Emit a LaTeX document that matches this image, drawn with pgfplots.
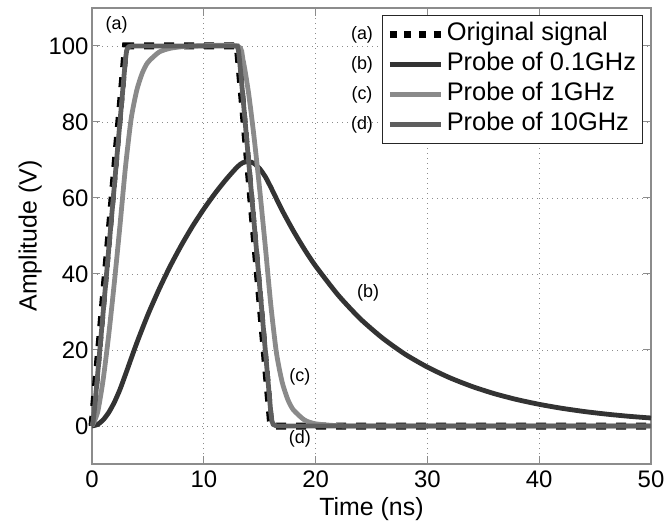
\documentclass[border=0pt]{standalone}
\usepackage{fontspec}
\setmainfont{Liberation Sans}
\usepackage{pgfplots}
\pgfplotsset{compat=1.18}
\definecolor{cb}{HTML}{333333}
\definecolor{cc}{HTML}{8A8A8A}
\definecolor{cd}{HTML}{5E5E5E}
\definecolor{frm}{HTML}{8C8C8C}
\begin{document}
\begin{tikzpicture}
\begin{axis}[
 scale only axis, width=559bp, height=456bp,
 xmin=0, xmax=50, ymin=-10, ymax=110,
 xtick={0,10,...,50}, ytick={0,20,...,100},
 grid=major,
 grid style={dash pattern=on 1bp off 4bp, black!45, line width=0.8bp},
 axis line style={frm, line width=1.2bp},
 tick style={frm, line width=1bp}, tick align=inside, major tick length=8bp,
 tick label style={font=\fontsize{24}{28}\selectfont},
 xticklabel style={yshift=-3bp},
 label style={font=\fontsize{25}{30}\selectfont},
 xlabel style={yshift=-3bp},
 xlabel={Time (ns)}, ylabel={Amplitude (V)},
 /pgf/number format/assume math mode=true,
 clip=false,
 legend style={at={(1,1)}, xshift=-8bp, yshift=-7bp, anchor=north east,
   draw=black!85, line width=1bp, fill=white,
   font=\fontsize{25.5}{30}\selectfont, cells={anchor=west},
   inner xsep=4bp, inner ysep=4bp, row sep=0bp,
   nodes={inner sep=2.5bp, text height=19bp, text depth=6bp}},
 legend image code/.code={\draw[#1] (0bp,0bp) -- (51bp,0bp);},
]
\addplot[black, line width=7bp, dash pattern=on 10bp off 10bp,
  legend image post style={dash pattern=on 7bp off 7.7bp}]
  coordinates {(0,0) (3,100) (13,100) (16,0) (50,0)};
\addlegendentry{Original signal}
\addplot[cb, line width=4.8bp, smooth, tension=0.4] coordinates {
 (0,0) (0.5,0.41) (1,1.61) (1.5,3.57) (2,6.24) (2.5,9.60) (3,13.6)
 (4,21.8) (5,29.3) (6,36.0) (7,42.1) (8,47.6) (9,52.6) (10,57.1)
 (11,61.2) (12,64.9) (13,68.2) (13.5,69.3) (14,69.6) (14.5,69.1)
 (15,67.7) (15.5,65.6) (16,62.8) (17,56.8) (18,51.4) (19,46.5)
 (20,42.1) (22,34.5) (24,28.2) (26,23.1) (28,18.9) (30,15.5)
 (32,12.7) (34,10.4) (36,8.5) (38,6.96) (40,5.7) (42,4.67)
 (44,3.82) (46,3.13) (48,2.56) (50,2.10)};
\addlegendentry{Probe of 0.1GHz}
\addplot[cc, line width=4.8bp, smooth, tension=0.4] coordinates {
 (0,0) (0.5,3.55) (1,12.26) (1.5,24.1) (2,37.8) (2.5,52.7) (3,68.3)
 (3.5,80.8) (4,88.3) (4.5,92.9) (5,95.7) (6,98.4) (7,99.4) (8,99.8)
 (9,100) (13,100) (13.5,96.45) (14,87.7) (14.5,75.9) (15,62.2)
 (15.5,47.3) (16,31.7) (16.5,19.2) (17,11.65) (17.5,7.07) (18,4.29)
 (19,1.58) (20,0.58) (22,0.08) (25,0) (50,0)};
\addlegendentry{Probe of 1GHz}
\addplot[cd, line width=4.8bp] coordinates {
 (0,0) (0.1,1.23) (0.2,3.78) (0.5,13.4) (1,30.0) (2,63.3) (3,96.7)
 (3.1,98.8) (3.2,99.55) (3.3,99.83) (3.5,99.98) (13,100) (13.1,98.8)
 (13.2,96.2) (13.5,86.6) (14,70) (15,36.7) (16,3.3) (16.1,1.23)
 (16.2,0.45) (16.5,0.02) (50,0)};
\addlegendentry{Probe of 10GHz}
\begin{scope}[font=\fontsize{18}{20}\selectfont]
\node at (axis cs:2.2,105.5) {(a)};
\node at (axis cs:24.7,35) {(b)};
\node at (axis cs:18.6,13) {(c)};
\node at (axis cs:18.6,-3.5) {(d)};
\node at (axis cs:24.15,102.9) {(a)};
\node at (axis cs:24.15,95.0) {(b)};
\node at (axis cs:24.15,87.1) {(c)};
\node at (axis cs:24.15,79.2) {(d)};
\end{scope}
\end{axis}
\pgfresetboundingbox
\path (current axis.south west) +(-92bp,-58bp) (current axis.north east) +(13bp,8bp);
\end{tikzpicture}
\end{document}
